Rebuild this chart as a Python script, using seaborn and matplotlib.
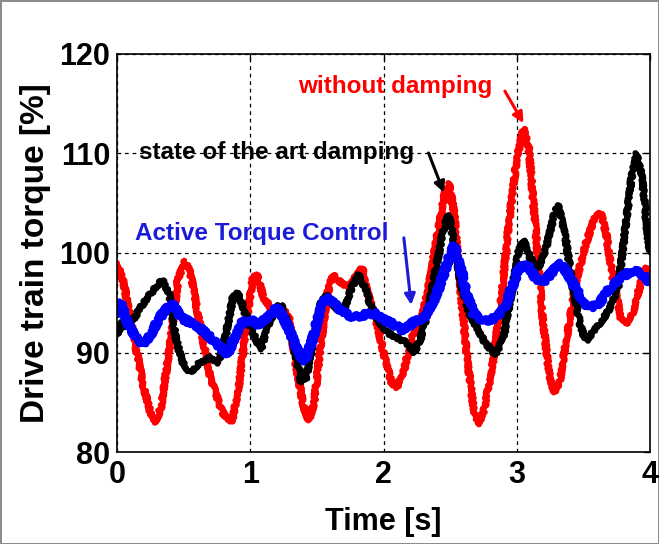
import pandas as pd
import matplotlib
matplotlib.use('Agg')
import matplotlib.pyplot as plt
import seaborn as sns

# values (time in s, torque in %)
red_t = [0.00, 0.05, 0.12, 0.20, 0.26, 0.29, 0.33, 0.40, 0.46, 0.51, 0.55, 0.62, 0.70, 0.79, 0.86, 0.91,
         0.97, 1.02, 1.05, 1.10, 1.17, 1.24, 1.29, 1.34, 1.40, 1.44, 1.48, 1.53, 1.58, 1.62, 1.68, 1.74,
         1.80, 1.84, 1.88, 1.94, 2.00, 2.06, 2.10, 2.15, 2.21, 2.27, 2.33, 2.40, 2.46, 2.49, 2.53, 2.58,
         2.63, 2.68, 2.72, 2.76, 2.82, 2.88, 2.94, 3.00, 3.05, 3.09, 3.14, 3.19, 3.24, 3.28, 3.32, 3.38,
         3.45, 3.52, 3.58, 3.63, 3.67, 3.72, 3.78, 3.82, 3.87, 3.93, 3.97, 4.00]
red_v = [99.0, 97.0, 92.0, 86.5, 83.5, 83.0, 84.5, 91.0, 97.5, 99.2, 98.0, 93.0, 87.5, 84.0, 83.0, 86.0,
         93.0, 97.5, 97.8, 95.5, 94.2, 94.5, 93.5, 89.0, 84.5, 83.2, 85.0, 91.0, 96.0, 97.8, 97.0, 96.6,
         97.8, 98.5, 96.0, 93.5, 90.0, 87.0, 86.5, 88.0, 91.5, 92.5, 96.0, 101.5, 106.0, 107.0, 104.0, 96.0,
         89.0, 84.0, 82.8, 84.5, 89.0, 95.0, 103.0, 109.5, 112.5, 110.5, 102.5, 94.0, 88.0, 86.0, 87.0, 92.0,
         97.5, 101.0, 103.5, 104.0, 102.0, 97.5, 93.5, 92.8, 94.0, 97.0, 98.5, 97.0]

black_t = [0.00, 0.04, 0.08, 0.13, 0.20, 0.27, 0.34, 0.39, 0.44, 0.49, 0.55, 0.62, 0.70, 0.76, 0.82, 0.87,
           0.91, 0.96, 1.02, 1.08, 1.13, 1.19, 1.23, 1.28, 1.33, 1.38, 1.42, 1.47, 1.53, 1.58, 1.63, 1.70,
           1.76, 1.81, 1.86, 1.91, 1.97, 2.03, 2.10, 2.17, 2.23, 2.28, 2.34, 2.40, 2.46, 2.49, 2.53, 2.58,
           2.64, 2.70, 2.76, 2.84, 2.90, 2.96, 3.01, 3.05, 3.10, 3.16, 3.22, 3.28, 3.31, 3.36, 3.42, 3.48,
           3.52, 3.57, 3.63, 3.70, 3.76, 3.81, 3.86, 3.90, 3.94, 3.98, 4.00]
black_v = [91.8, 93.0, 92.5, 93.5, 95.0, 96.2, 97.3, 96.0, 91.5, 89.0, 88.0, 89.0, 89.5, 89.0, 92.0, 95.5,
           96.0, 94.0, 92.0, 90.3, 92.5, 94.5, 94.8, 93.0, 90.5, 87.0, 87.5, 91.0, 95.0, 95.8, 94.5, 94.2,
           96.5, 97.8, 96.5, 94.5, 93.0, 92.0, 91.5, 91.0, 90.0, 91.5, 94.5, 99.0, 103.0, 103.8, 101.0, 97.0,
           94.0, 92.5, 91.0, 89.8, 91.5, 96.0, 100.0, 101.3, 99.5, 98.5, 100.5, 103.8, 104.8, 102.0, 96.5, 92.5,
           91.2, 92.0, 93.0, 94.5, 96.5, 102.0, 107.5, 110.0, 107.5, 102.0, 100.0]

blue_t = [0.00, 0.03, 0.08, 0.14, 0.20, 0.26, 0.32, 0.38, 0.42, 0.48, 0.55, 0.62, 0.70, 0.78, 0.83, 0.88,
          0.94, 1.00, 1.06, 1.12, 1.20, 1.25, 1.30, 1.36, 1.41, 1.46, 1.52, 1.57, 1.62, 1.70, 1.78, 1.86,
          1.93, 2.00, 2.08, 2.15, 2.22, 2.30, 2.37, 2.43, 2.49, 2.53, 2.57, 2.62, 2.68, 2.76, 2.85, 2.91,
          2.96, 3.02, 3.08, 3.14, 3.20, 3.27, 3.33, 3.38, 3.44, 3.50, 3.56, 3.62, 3.70, 3.78, 3.86, 3.93, 4.00]
blue_v = [93.8, 95.0, 93.0, 91.5, 90.8, 92.0, 93.5, 94.5, 94.8, 93.5, 93.0, 92.5, 91.5, 90.5, 89.8, 91.5,
          93.0, 93.3, 92.8, 93.5, 94.5, 93.5, 92.0, 90.0, 89.2, 91.0, 94.0, 95.5, 95.0, 94.0, 93.5, 93.8,
          94.0, 93.3, 92.8, 92.2, 93.0, 93.5, 95.0, 97.0, 99.5, 100.7, 99.0, 96.0, 93.8, 93.2, 93.5, 94.5,
          96.5, 98.5, 98.8, 97.5, 97.0, 98.2, 98.9, 98.0, 96.5, 95.0, 94.5, 95.0, 96.5, 97.5, 98.2, 98.0, 97.0]

xticks = [0, 1, 2, 3, 4]
yticks = [80, 90, 100, 110, 120]

sns.set_style('white')
plt.rcParams['font.family'] = ['Liberation Sans', 'DejaVu Sans']
plt.rcParams['font.weight'] = 'bold'
plt.rcParams['text.color'] = 'black'
plt.rcParams['axes.labelcolor'] = 'black'
plt.rcParams['xtick.color'] = 'black'
plt.rcParams['ytick.color'] = 'black'

fig = plt.figure(figsize=(6.59, 5.44), dpi=100)
fig.patch.set_edgecolor('#8c8c8c')
fig.patch.set_linewidth(2)
ax = fig.add_axes([0.1775, 0.169, 0.809, 0.732])

red = pd.DataFrame({'t': red_t, 'v': red_v})
black = pd.DataFrame({'t': black_t, 'v': black_v})
blue = pd.DataFrame({'t': blue_t, 'v': blue_v})

sns.lineplot(data=red, x='t', y='v', color='#ff0000', lw=4.3, sort=False, estimator=None, ax=ax)
sns.lineplot(data=black, x='t', y='v', color='black', lw=4.3, sort=False, estimator=None, ax=ax)
sns.lineplot(data=blue, x='t', y='v', color='#0000ff', lw=5.5, sort=False, estimator=None, ax=ax)
# jagged, measured-signal look
for ln in ax.lines:
    ln.set_sketch_params(scale=1.6, length=2.5, randomness=6)
ax.lines[2].set_sketch_params(scale=2.2, length=2.0, randomness=6)

ax.set_xlim(0, 4)
ax.set_ylim(80, 120)
ax.set_xticks(xticks)
ax.set_yticks(yticks)
ax.set_xticklabels([str(x) for x in xticks], fontsize=22, fontweight='bold')
ax.set_yticklabels([str(y) for y in yticks], fontsize=22, fontweight='bold')
ax.tick_params(direction='in', length=4, width=1, top=True, right=True, colors='black')
ax.tick_params(axis='x', pad=6)
ax.tick_params(axis='y', pad=5)
ax.grid(True, color='black', linestyle=(0, (3, 3)), linewidth=0.9)
for s in ax.spines.values():
    s.set_color('black')
    s.set_linewidth(1.2)

ax.set_xlabel('Time [s]', fontsize=22, fontweight='bold', labelpad=12)
ax.set_ylabel('Drive train torque [%]', fontsize=24, fontweight='bold', labelpad=6)

# annotations
ax.text(1.36, 116.7, 'without damping', color='#ff0000', fontsize=17.5, fontweight='bold', va='center')
ax.annotate('', xy=(3.06, 112.8), xytext=(2.90, 116.5),
            arrowprops=dict(arrowstyle='-|>', color='#ff0000', lw=2.2, mutation_scale=16))
ax.text(0.165, 110.1, 'state of the art damping', color='black', fontsize=17.5, fontweight='bold', va='center')
ax.annotate('', xy=(2.46, 105.8), xytext=(2.33, 110.3),
            arrowprops=dict(arrowstyle='-|>', color='black', lw=2.2, mutation_scale=16))
ax.text(0.135, 102.0, 'Active Torque Control', color='#1c1cd8', fontsize=17.5, fontweight='bold', va='center')
ax.annotate('', xy=(2.21, 94.5), xytext=(2.15, 101.8),
            arrowprops=dict(arrowstyle='-|>', color='#1c1cd8', lw=2.2, mutation_scale=16))

fig.savefig('out.png', dpi=100)
